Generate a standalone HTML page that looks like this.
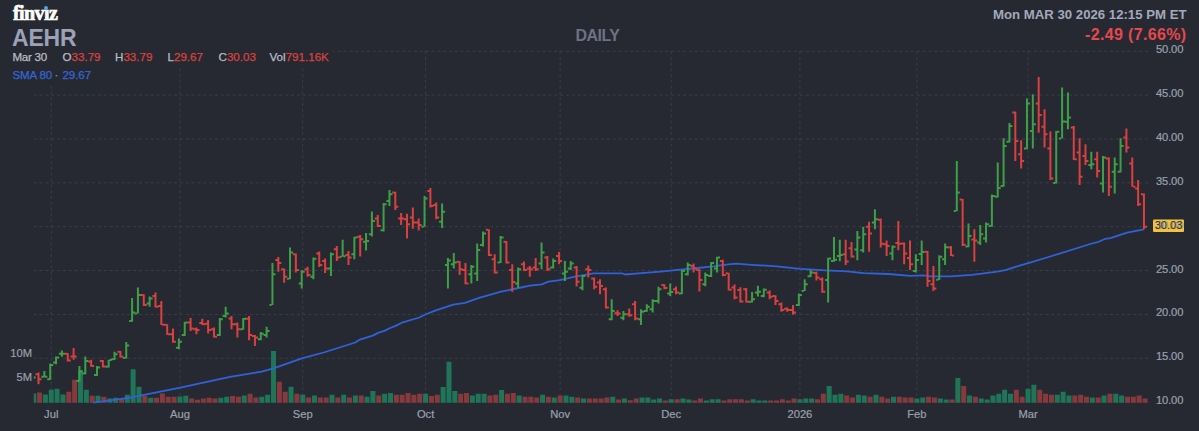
<!DOCTYPE html>
<html><head><meta charset="utf-8"><style>
html,body{margin:0;padding:0;width:1199px;height:431px;overflow:hidden;background:#262932;}
body{position:relative;font-family:"Liberation Sans",sans-serif;}
.t{position:absolute;white-space:nowrap;line-height:1;}
.yl{position:absolute;left:1156px;width:40px;font-size:11.2px;letter-spacing:-0.15px;-webkit-text-stroke:0.2px currentColor;line-height:14px;color:#9aa0ae;}
.xl{position:absolute;top:407px;width:60px;text-align:center;font-size:11.2px;-webkit-text-stroke:0.2px currentColor;line-height:14px;color:#9aa0ae;}
.r1{top:51px;font-size:11.6px;color:#b9bdc7;-webkit-text-stroke:0.25px currentColor;}
.vl{position:absolute;left:0;width:32px;text-align:right;font-size:11.2px;-webkit-text-stroke:0.2px currentColor;line-height:14px;color:#9aa0ae;}
</style></head><body>
<svg width="1199" height="431" viewBox="0 0 1199 431" style="position:absolute;left:0;top:0"><path d="M33.75 402.1H1148 M33.75 358.25H1148 M33.75 314.4H1148 M33.75 270.55H1148 M33.75 226.7H1148 M33.75 182.85H1148 M33.75 139H1148 M33.75 95.15H1148 M33.75 51.3H1148" stroke="#3a3e4a" stroke-width="1" stroke-dasharray="2.9245 2.9245" fill="none"/><path d="M51.25 51V403 M179.93 51V403 M302.76 51V403 M425.59 51V403 M560.11 51V403 M671.24 51V403 M799.92 51V403 M916.9 51V403 M1028.03 51V403" stroke="#3a3e4a" stroke-width="1" stroke-dasharray="2.9 2.9" fill="none"/><rect x="0" y="0" width="333" height="68" fill="#262932"/><rect x="0" y="68" width="95" height="17" fill="#262932"/><path d="M33.75 393.5H36.2V402.7H33.75ZM42.9 394.6H47.9V402.7H42.9ZM48.75 389.8H53.75V402.7H48.75ZM54.6 388.8H59.6V402.7H54.6ZM60.45 394.6H65.45V402.7H60.45ZM78 370.1H83V402.7H78ZM83.84 389.8H88.84V402.7H83.84ZM95.54 395.7H100.54V402.7H95.54ZM107.24 398.5H112.24V402.7H107.24ZM113.09 397.7H118.09V402.7H113.09ZM124.79 394.8H129.79V402.7H124.79ZM130.64 369.3H135.64V402.7H130.64ZM136.49 386.8H141.49V402.7H136.49ZM148.18 397.7H153.18V402.7H148.18ZM177.43 396.5H182.43V402.7H177.43ZM183.28 395.7H188.28V402.7H183.28ZM218.37 397.7H223.37V402.7H218.37ZM224.22 396.8H229.22V402.7H224.22ZM241.77 395.6H246.77V402.7H241.77ZM259.31 396.8H264.31V402.7H259.31ZM265.16 394.8H270.16V402.7H265.16ZM271.01 350.9H276.01V402.7H271.01ZM288.56 386.8H293.56V402.7H288.56ZM300.26 394.8H305.26V402.7H300.26ZM311.95 395.6H316.95V402.7H311.95ZM329.5 394.8H334.5V402.7H329.5ZM341.2 394.8H346.2V402.7H341.2ZM352.9 395.6H357.9V402.7H352.9ZM364.6 396.8H369.6V402.7H364.6ZM370.44 391H375.44V402.7H370.44ZM382.14 393.8H387.14V402.7H382.14ZM387.99 393H392.99V402.7H387.99ZM423.09 393.8H428.09V402.7H423.09ZM440.63 387.1H445.63V402.7H440.63ZM446.48 361.7H451.48V402.7H446.48ZM452.33 391H457.33V402.7H452.33ZM469.88 395.6H474.88V402.7H469.88ZM475.73 393.8H480.73V402.7H475.73ZM481.58 393.8H486.58V402.7H481.58ZM499.12 390.1H504.12V402.7H499.12ZM516.67 395.6H521.67V402.7H516.67ZM540.07 394.8H545.07V402.7H540.07ZM551.76 397.6H556.76V402.7H551.76ZM563.46 395.6H568.46V402.7H563.46ZM569.31 396.8H574.31V402.7H569.31ZM581.01 398.5H586.01V402.7H581.01ZM610.25 396.8H615.25V402.7H610.25ZM621.95 398.5H626.95V402.7H621.95ZM639.5 397.6H644.5V402.7H639.5ZM645.35 397.6H650.35V402.7H645.35ZM651.2 399.6H656.2V402.7H651.2ZM657.05 398.5H662.05V402.7H657.05ZM668.74 399.3H673.74V402.7H668.74ZM680.44 398.5H685.44V402.7H680.44ZM686.29 399.6H691.29V402.7H686.29ZM703.84 400.5H708.84V402.7H703.84ZM709.69 399.3H714.69V402.7H709.69ZM715.54 399.3H720.54V402.7H715.54ZM750.63 399.3H755.63V402.7H750.63ZM756.48 400.5H761.48V402.7H756.48ZM762.33 400.5H767.33V402.7H762.33ZM797.42 399.3H802.42V402.7H797.42ZM803.27 398.5H808.27V402.7H803.27ZM809.12 398.5H814.12V402.7H809.12ZM826.67 386H831.67V402.7H826.67ZM832.52 394.8H837.52V402.7H832.52ZM838.37 393.8H843.37V402.7H838.37ZM855.91 394.8H860.91V402.7H855.91ZM861.76 395.6H866.76V402.7H861.76ZM873.46 394.8H878.46V402.7H873.46ZM891.01 396.8H896.01V402.7H891.01ZM914.4 398.5H919.4V402.7H914.4ZM920.25 397.6H925.25V402.7H920.25ZM937.8 398.5H942.8V402.7H937.8ZM943.65 399.6H948.65V402.7H943.65ZM955.35 378.1H960.35V402.7H955.35ZM967.04 395.6H972.04V402.7H967.04ZM978.74 398.5H983.74V402.7H978.74ZM984.59 399.6H989.59V402.7H984.59ZM990.44 395.6H995.44V402.7H990.44ZM996.29 393.8H1001.29V402.7H996.29ZM1002.14 389.8H1007.14V402.7H1002.14ZM1007.99 393.8H1012.99V402.7H1007.99ZM1025.53 388.8H1030.53V402.7H1025.53ZM1031.38 384.8H1036.38V402.7H1031.38ZM1054.78 394.8H1059.78V402.7H1054.78ZM1060.63 391.8H1065.63V402.7H1060.63ZM1066.48 395.6H1071.48V402.7H1066.48ZM1089.87 397.6H1094.87V402.7H1089.87ZM1101.57 395.6H1106.57V402.7H1101.57ZM1113.27 393.8H1118.27V402.7H1113.27ZM1119.12 395.6H1124.12V402.7H1119.12Z" fill="#1f7558"/><path d="M37.05 392.6H42.05V402.7H37.05ZM66.3 391.8H71.3V402.7H66.3ZM72.15 379.8H77.15V402.7H72.15ZM89.69 395.7H94.69V402.7H89.69ZM101.39 396.8H106.39V402.7H101.39ZM118.94 398.5H123.94V402.7H118.94ZM142.33 396H147.33V402.7H142.33ZM154.03 397.7H159.03V402.7H154.03ZM159.88 393.5H164.88V402.7H159.88ZM165.73 396.8H170.73V402.7H165.73ZM171.58 396.8H176.58V402.7H171.58ZM189.13 398.5H194.13V402.7H189.13ZM194.97 399.8H199.97V402.7H194.97ZM200.82 398.5H205.82V402.7H200.82ZM206.67 397.7H211.67V402.7H206.67ZM212.52 398.5H217.52V402.7H212.52ZM230.07 396H235.07V402.7H230.07ZM235.92 396.8H240.92V402.7H235.92ZM247.62 393.8H252.62V402.7H247.62ZM253.47 397.6H258.47V402.7H253.47ZM276.86 381.8H281.86V402.7H276.86ZM282.71 391.8H287.71V402.7H282.71ZM294.41 393.8H299.41V402.7H294.41ZM306.11 397.6H311.11V402.7H306.11ZM317.8 397.6H322.8V402.7H317.8ZM323.65 397.6H328.65V402.7H323.65ZM335.35 397.6H340.35V402.7H335.35ZM347.05 397.6H352.05V402.7H347.05ZM358.75 395.6H363.75V402.7H358.75ZM376.29 395.6H381.29V402.7H376.29ZM393.84 394.8H398.84V402.7H393.84ZM399.69 394.8H404.69V402.7H399.69ZM405.54 393H410.54V402.7H405.54ZM411.39 394.8H416.39V402.7H411.39ZM417.24 393.8H422.24V402.7H417.24ZM428.94 396H433.94V402.7H428.94ZM434.78 394.8H439.78V402.7H434.78ZM458.18 393.8H463.18V402.7H458.18ZM464.03 393H469.03V402.7H464.03ZM487.43 395.6H492.43V402.7H487.43ZM493.27 394.8H498.27V402.7H493.27ZM504.97 393.8H509.97V402.7H504.97ZM510.82 393H515.82V402.7H510.82ZM522.52 396.8H527.52V402.7H522.52ZM528.37 396.8H533.37V402.7H528.37ZM534.22 397.6H539.22V402.7H534.22ZM545.91 396.8H550.91V402.7H545.91ZM557.61 395.6H562.61V402.7H557.61ZM575.16 397.6H580.16V402.7H575.16ZM586.86 398.5H591.86V402.7H586.86ZM592.71 398.5H597.71V402.7H592.71ZM598.56 398.5H603.56V402.7H598.56ZM604.4 397.6H609.4V402.7H604.4ZM616.1 399.6H621.1V402.7H616.1ZM627.8 400.2H632.8V402.7H627.8ZM633.65 398.5H638.65V402.7H633.65ZM662.89 400.5H667.89V402.7H662.89ZM674.59 399.3H679.59V402.7H674.59ZM692.14 400.5H697.14V402.7H692.14ZM697.99 398.5H702.99V402.7H697.99ZM721.38 400.5H726.38V402.7H721.38ZM727.23 399.3H732.23V402.7H727.23ZM733.08 399.3H738.08V402.7H733.08ZM738.93 399.3H743.93V402.7H738.93ZM744.78 400.5H749.78V402.7H744.78ZM768.18 400.5H773.18V402.7H768.18ZM774.03 400.5H779.03V402.7H774.03ZM779.88 399.3H784.88V402.7H779.88ZM785.72 400.5H790.72V402.7H785.72ZM791.57 398.5H796.57V402.7H791.57ZM814.97 399.3H819.97V402.7H814.97ZM820.82 393.8H825.82V402.7H820.82ZM844.21 395.6H849.21V402.7H844.21ZM850.06 397.6H855.06V402.7H850.06ZM867.61 396.8H872.61V402.7H867.61ZM879.31 396.8H884.31V402.7H879.31ZM885.16 398.5H890.16V402.7H885.16ZM896.86 396.8H901.86V402.7H896.86ZM902.7 397.6H907.7V402.7H902.7ZM908.55 397.6H913.55V402.7H908.55ZM926.1 396.8H931.1V402.7H926.1ZM931.95 397.6H936.95V402.7H931.95ZM949.5 399.6H954.5V402.7H949.5ZM961.19 386H966.19V402.7H961.19ZM972.89 396.8H977.89V402.7H972.89ZM1013.84 389.8H1018.84V402.7H1013.84ZM1019.68 396.8H1024.68V402.7H1019.68ZM1037.23 389.8H1042.23V402.7H1037.23ZM1043.08 393.8H1048.08V402.7H1043.08ZM1048.93 394.8H1053.93V402.7H1048.93ZM1072.33 395.6H1077.33V402.7H1072.33ZM1078.17 394.8H1083.17V402.7H1078.17ZM1084.02 396.8H1089.02V402.7H1084.02ZM1095.72 397.6H1100.72V402.7H1095.72ZM1107.42 393.8H1112.42V402.7H1107.42ZM1124.97 396.8H1129.97V402.7H1124.97ZM1130.82 396.8H1135.82V402.7H1130.82ZM1136.66 395.6H1141.66V402.7H1136.66ZM1142.51 398.5H1147.51V402.7H1142.51Z" fill="#873a3d"/><polyline points="93.5,402.7 130.3,397.7 180.4,387.6 230,376.8 261.7,371.7 273.4,368.4 301.8,358.4 323.6,352.5 355.3,342.5 359.9,339.6 372.7,335.6 378.6,332.6 384.4,330.9 390.2,328 396.1,325.6 401.9,322.7 419.4,317.5 425.3,314.5 435.8,310.4 453.3,304.6 465,302.9 479.8,297.6 483.5,296.7 501,291.7 518.6,288 530,285.7 541.7,284.3 548.4,281.7 560,280.1 575.1,276.7 593.5,273.4 621.9,273.4 625.2,274.5 638.6,273.4 660.3,271.7 680.4,269.7 697.1,268 713.8,266.4 723.8,264.8 735.8,263.6 751.7,264.8 776.8,266.4 800.2,268.8 825.2,270.4 847,271.3 863.6,273.2 888.6,274 910.2,275.9 923.6,275.4 930.3,276.4 950.3,276.4 972,274.8 997.1,271.7 1005.4,270.1 1017.1,266.4 1030,262.6 1048.6,257 1092,243.5 1098.7,241.8 1105.4,238.8 1110.4,238.1 1127.1,232.6 1143.8,229.3" fill="none" stroke="#2f62d9" stroke-width="1.8" stroke-linejoin="round"/><path d="M33.75 376.6H35.65v2H33.75Z M43.35 370.9h2V377.6h-2Z M41.35 375.8h2v2h-2Z M45.35 375.8h2v2h-2Z M49.2 363.4h2V380.1h-2Z M47.2 378.3h2v2h-2Z M51.2 364.1h2v2h-2Z M55.05 356.4h2V364.2h-2Z M53.05 361.6h2v2h-2Z M57.05 356.6h2v2h-2Z M60.9 350.4h2V356.7h-2Z M58.9 352.7h2v2h-2Z M62.9 352.7h2v2h-2Z M78.45 365.9h2V381.8h-2Z M76.45 380h2v2h-2Z M80.45 370.4h2v2h-2Z M84.29 356.4h2V374.3h-2Z M82.29 372.4h2v2h-2Z M86.29 359.9h2v2h-2Z M95.99 365.9h2V375.9h-2Z M93.99 374h2v2h-2Z M97.99 366.6h2v2h-2Z M107.69 359.7h2V367.6h-2Z M105.69 365.7h2v2h-2Z M109.69 359.1h2v2h-2Z M113.54 351.7h2V360.1h-2Z M111.54 358.2h2v2h-2Z M115.54 353.2h2v2h-2Z M125.24 342h2V358.4h-2Z M123.24 357.1h2v2h-2Z M127.24 344.4h2v2h-2Z M131.09 298h2V321.8h-2Z M129.09 320h2v2h-2Z M133.09 311.6h2v2h-2Z M136.94 287.5h2V313.4h-2Z M134.94 312.4h2v2h-2Z M138.94 294h2v2h-2Z M148.63 296.4h2V306.7h-2Z M146.63 302.4h2v2h-2Z M150.63 297.4h2v2h-2Z M177.88 338.5h2V349.3h-2Z M175.88 346.7h2v2h-2Z M179.88 340.8h2v2h-2Z M183.73 321.8h2V336h-2Z M181.73 334.1h2v2h-2Z M185.73 321.6h2v2h-2Z M218.82 318.1h2V336h-2Z M216.82 334.1h2v2h-2Z M220.82 318.3h2v2h-2Z M224.67 306.7h2V317.6h-2Z M222.67 315h2v2h-2Z M226.67 312.4h2v2h-2Z M242.22 318.1h2V329.8h-2Z M240.22 328.3h2v2h-2Z M244.22 317.8h2v2h-2Z M259.76 332.1h2V340.2h-2Z M257.76 338.3h2v2h-2Z M261.76 332.8h2v2h-2Z M265.61 326.8h2V337.6h-2Z M263.61 334.1h2v2h-2Z M267.61 330h2v2h-2Z M271.46 263.1h2V305h-2Z M269.46 304h2v2h-2Z M273.46 273.3h2v2h-2Z M289.01 247.6h2V279.3h-2Z M287.01 277.8h2v2h-2Z M291.01 251.6h2v2h-2Z M300.71 270.1h2V288.5h-2Z M298.71 282.5h2v2h-2Z M302.71 270.8h2v2h-2Z M312.4 257.6h2V279.3h-2Z M310.4 275.8h2v2h-2Z M314.4 257.8h2v2h-2Z M329.95 252.6h2V276h-2Z M327.95 267.5h2v2h-2Z M331.95 253.3h2v2h-2Z M341.65 239.7h2V256.8h-2Z M339.65 255.8h2v2h-2Z M343.65 255.3h2v2h-2Z M353.35 236.7h2V259.3h-2Z M351.35 253.3h2v2h-2Z M355.35 236.5h2v2h-2Z M365.05 233h2V250.6h-2Z M363.05 240.7h2v2h-2Z M367.05 239.9h2v2h-2Z M370.89 211.4h2V236.5h-2Z M368.89 233.3h2v2h-2Z M372.89 220h2v2h-2Z M382.59 203.1h2V231.5h-2Z M380.59 229.2h2v2h-2Z M384.59 203.3h2v2h-2Z M388.44 190h2V205.9h-2Z M386.44 199.9h2v2h-2Z M390.44 193.2h2v2h-2Z M423.54 195.9h2V226.8h-2Z M421.54 225.8h2v2h-2Z M425.54 197.4h2v2h-2Z M441.08 203.4h2V228.1h-2Z M439.08 220.8h2v2h-2Z M443.08 210.8h2v2h-2Z M446.93 258.1h2V288.5h-2Z M444.93 264.1h2v2h-2Z M448.93 259.4h2v2h-2Z M452.78 253.1h2V268.5h-2Z M450.78 263.3h2v2h-2Z M454.78 261.6h2v2h-2Z M470.33 265.1h2V283.5h-2Z M468.33 273.3h2v2h-2Z M472.33 265.8h2v2h-2Z M476.18 243.4h2V281h-2Z M474.18 272.5h2v2h-2Z M478.18 249.1h2v2h-2Z M482.03 231.4h2V246.4h-2Z M480.03 244.1h2v2h-2Z M484.03 232.4h2v2h-2Z M499.57 235.9h2V263.1h-2Z M497.57 261.6h2v2h-2Z M501.57 236.5h2v2h-2Z M517.12 267.6h2V287.7h-2Z M515.12 282.5h2v2h-2Z M519.12 268.3h2v2h-2Z M540.52 242.6h2V269.3h-2Z M538.52 262.4h2v2h-2Z M542.52 251.6h2v2h-2Z M552.21 258.4h2V268.5h-2Z M550.21 266.6h2v2h-2Z M554.21 259.9h2v2h-2Z M563.91 260.9h2V281h-2Z M561.91 272.5h2v2h-2Z M565.91 270.8h2v2h-2Z M569.76 260.9h2V270.1h-2Z M567.76 267.5h2v2h-2Z M571.76 262.4h2v2h-2Z M581.46 275.1h2V290.2h-2Z M579.46 286.7h2v2h-2Z M583.46 275h2v2h-2Z M610.7 299.3h2V320.2h-2Z M608.7 318.3h2v2h-2Z M612.7 310h2v2h-2Z M622.4 311h2V320.2h-2Z M620.4 316.7h2v2h-2Z M624.4 313.3h2v2h-2Z M639.95 309.3h2V325.1h-2Z M637.95 318.3h2v2h-2Z M641.95 310.8h2v2h-2Z M645.8 304.3h2V311.8h-2Z M643.8 310h2v2h-2Z M647.8 305.8h2v2h-2Z M651.65 299.2h2V312.6h-2Z M649.65 308.3h2v2h-2Z M653.65 299.9h2v2h-2Z M657.5 286.7h2V303.4h-2Z M655.5 299.9h2v2h-2Z M659.5 288.2h2v2h-2Z M669.19 283.4h2V295.9h-2Z M667.19 292.4h2v2h-2Z M671.19 291h2v2h-2Z M680.89 270h2V294.2h-2Z M678.89 292.4h2v2h-2Z M682.89 270h2v2h-2Z M686.74 262.5h2V275.5h-2Z M684.74 273.2h2v2h-2Z M688.74 264h2v2h-2Z M704.29 272.6h2V286.3h-2Z M702.29 283.3h2v2h-2Z M706.29 274.1h2v2h-2Z M710.14 262h2V277h-2Z M708.14 274.9h2v2h-2Z M712.14 262h2v2h-2Z M715.99 256.7h2V272.6h-2Z M713.99 267.4h2v2h-2Z M717.99 256.5h2v2h-2Z M751.08 292h2V302.6h-2Z M749.08 300.7h2v2h-2Z M753.08 298.2h2v2h-2Z M756.93 285.7h2V296.5h-2Z M754.93 291.5h2v2h-2Z M758.93 290.7h2v2h-2Z M762.78 288.4h2V297.2h-2Z M760.78 295h2v2h-2Z M764.78 288.7h2v2h-2Z M797.87 293.5h2V305.9h-2Z M795.87 304.1h2v2h-2Z M799.87 294.1h2v2h-2Z M803.72 279.3h2V291h-2Z M801.72 289.9h2v2h-2Z M805.72 283.3h2v2h-2Z M809.57 270.1h2V277.2h-2Z M807.57 275.3h2v2h-2Z M811.57 271.5h2v2h-2Z M827.12 257.7h2V302.6h-2Z M825.12 279.1h2v2h-2Z M829.12 257.6h2v2h-2Z M832.97 237h2V261.7h-2Z M830.97 259.9h2v2h-2Z M834.97 258.7h2v2h-2Z M838.82 239.8h2V261.2h-2Z M836.82 255h2v2h-2Z M840.82 254h2v2h-2Z M856.36 231h2V260.2h-2Z M854.36 248.5h2v2h-2Z M858.36 236.6h2v2h-2Z M862.21 226.8h2V252.5h-2Z M860.21 249.2h2v2h-2Z M864.21 233.3h2v2h-2Z M873.91 209.2h2V229.3h-2Z M871.91 221.6h2v2h-2Z M875.91 218.2h2v2h-2Z M891.46 245.5h2V260.2h-2Z M889.46 252.5h2v2h-2Z M893.46 245.8h2v2h-2Z M914.85 254.2h2V272.6h-2Z M912.85 269.9h2v2h-2Z M916.85 259h2v2h-2Z M920.7 240.5h2V265.1h-2Z M918.7 253h2v2h-2Z M922.7 251h2v2h-2Z M938.25 255.3h2V280.1h-2Z M936.25 278.8h2v2h-2Z M940.25 255.7h2v2h-2Z M944.1 243.4h2V265.1h-2Z M942.1 258.2h2v2h-2Z M946.1 246.3h2v2h-2Z M955.8 160.9h2V211.2h-2Z M953.8 209.9h2v2h-2Z M957.8 191.6h2v2h-2Z M967.49 223.4h2V247.2h-2Z M965.49 245.5h2v2h-2Z M969.49 235h2v2h-2Z M979.19 225.1h2V245.1h-2Z M977.19 241.6h2v2h-2Z M981.19 233.3h2v2h-2Z M985.04 222.6h2V242.6h-2Z M983.04 237.5h2v2h-2Z M987.04 223.3h2v2h-2Z M990.89 194.5h2V226.8h-2Z M988.89 224.9h2v2h-2Z M992.89 194.9h2v2h-2Z M996.74 162.6h2V197.6h-2Z M994.74 195.8h2v2h-2Z M998.74 187h2v2h-2Z M1002.59 138.3h2V186.8h-2Z M1000.59 185h2v2h-2Z M1004.59 144.9h2v2h-2Z M1008.44 123.1h2V142.5h-2Z M1006.44 140.7h2v2h-2Z M1010.44 125h2v2h-2Z M1025.98 98.4h2V149.2h-2Z M1023.98 147.4h2v2h-2Z M1027.98 102.4h2v2h-2Z M1031.83 94.2h2V148.4h-2Z M1029.83 130h2v2h-2Z M1033.83 123.3h2v2h-2Z M1055.23 131h2V183.5h-2Z M1053.23 182.1h2v2h-2Z M1057.23 130.7h2v2h-2Z M1061.08 87.5h2V138.5h-2Z M1059.08 137.5h2v2h-2Z M1063.08 120.5h2v2h-2Z M1066.93 92.6h2V129.3h-2Z M1064.93 120.8h2v2h-2Z M1068.93 116.6h2v2h-2Z M1090.32 151.7h2V169.3h-2Z M1088.32 164.1h2v2h-2Z M1092.32 163.3h2v2h-2Z M1102.02 155.9h2V192.6h-2Z M1100.02 182.5h2v2h-2Z M1104.02 156.6h2v2h-2Z M1113.72 157.6h2V193.5h-2Z M1111.72 170.8h2v2h-2Z M1115.72 163.3h2v2h-2Z M1119.57 138.3h2V172.6h-2Z M1117.57 170.8h2v2h-2Z M1121.57 144.9h2v2h-2Z" fill="#3e9f47"/><path d="M37.5 372.6h2V384.3h-2Z M35.5 373.3h2v2h-2Z M39.5 378.3h2v2h-2Z M66.75 353h2V361.4h-2Z M64.75 352.7h2v2h-2Z M68.75 359.4h2v2h-2Z M72.6 348h2V359.7h-2Z M70.6 355.4h2v2h-2Z M74.6 355.4h2v2h-2Z M90.14 359.7h2V366.7h-2Z M88.14 360.4h2v2h-2Z M92.14 364.9h2v2h-2Z M101.84 360.1h2V367.6h-2Z M99.84 359.9h2v2h-2Z M103.84 365.4h2v2h-2Z M119.39 350.9h2V357.6h-2Z M117.39 350.7h2v2h-2Z M121.39 355.7h2v2h-2Z M142.78 294.2h2V305.9h-2Z M140.78 294h2v2h-2Z M144.78 304h2v2h-2Z M154.48 292.5h2V307.6h-2Z M152.48 294.9h2v2h-2Z M156.48 305.7h2v2h-2Z M160.33 300.9h2V325.1h-2Z M158.33 304.9h2v2h-2Z M162.33 323.8h2v2h-2Z M166.18 324.3h2V335.1h-2Z M164.18 323.8h2v2h-2Z M168.18 333.3h2v2h-2Z M172.03 328.5h2V342.7h-2Z M170.03 333.3h2v2h-2Z M174.03 340.8h2v2h-2Z M189.58 318.1h2V331h-2Z M187.58 321.6h2v2h-2Z M191.58 327.5h2v2h-2Z M195.43 327.6h2V334.3h-2Z M193.43 328.3h2v2h-2Z M197.43 329.1h2v2h-2Z M201.27 318.8h2V325.1h-2Z M199.27 322.1h2v2h-2Z M203.27 323.3h2v2h-2Z M207.12 320.1h2V333.5h-2Z M205.12 322.8h2v2h-2Z M209.12 329.1h2v2h-2Z M212.97 327.6h2V337.6h-2Z M210.97 328.3h2v2h-2Z M214.97 335.8h2v2h-2Z M230.52 315.9h2V329.3h-2Z M228.52 317.4h2v2h-2Z M232.52 323.3h2v2h-2Z M236.37 322.6h2V337.6h-2Z M234.37 323.3h2v2h-2Z M238.37 328.3h2v2h-2Z M248.07 315.9h2V340.2h-2Z M246.07 317.8h2v2h-2Z M250.07 334.1h2v2h-2Z M253.92 335.1h2V346h-2Z M251.92 335h2v2h-2Z M255.92 336.6h2v2h-2Z M277.31 257.1h2V271.8h-2Z M275.31 259.1h2v2h-2Z M279.31 262.1h2v2h-2Z M283.16 268.5h2V282.7h-2Z M281.16 268.3h2v2h-2Z M285.16 275.8h2v2h-2Z M294.86 253.4h2V272.6h-2Z M292.86 253.3h2v2h-2Z M296.86 269.1h2v2h-2Z M306.56 266.8h2V276.8h-2Z M304.56 268.3h2v2h-2Z M308.56 274.1h2v2h-2Z M318.25 251.4h2V267.1h-2Z M316.25 252.4h2v2h-2Z M320.25 264.1h2v2h-2Z M324.1 258.4h2V273.1h-2Z M322.1 259.9h2v2h-2Z M326.1 267.5h2v2h-2Z M335.8 245.9h2V260.9h-2Z M333.8 248.2h2v2h-2Z M337.8 256.6h2v2h-2Z M347.5 250.9h2V265.1h-2Z M345.5 254.1h2v2h-2Z M349.5 256.6h2v2h-2Z M359.2 235h2V256.4h-2Z M357.2 235.7h2v2h-2Z M361.2 238.2h2v2h-2Z M376.74 215.1h2V227.1h-2Z M374.74 217.5h2v2h-2Z M378.74 225h2v2h-2Z M394.29 191.7h2V210.1h-2Z M392.29 191.6h2v2h-2Z M396.29 205.8h2v2h-2Z M400.14 213.1h2V225.1h-2Z M398.14 217.5h2v2h-2Z M402.14 217.5h2v2h-2Z M405.99 213.8h2V238.5h-2Z M403.99 218.3h2v2h-2Z M407.99 223.3h2v2h-2Z M411.84 207.6h2V228.8h-2Z M409.84 216.6h2v2h-2Z M413.84 221.6h2v2h-2Z M417.69 218.5h2V230.5h-2Z M415.69 221.6h2v2h-2Z M419.69 224.1h2v2h-2Z M429.38 188h2V207.6h-2Z M427.38 189.9h2v2h-2Z M431.38 204.9h2v2h-2Z M435.23 202.6h2V219.3h-2Z M433.23 204.1h2v2h-2Z M437.23 216.6h2v2h-2Z M458.63 260.9h2V275.1h-2Z M456.63 260.8h2v2h-2Z M460.63 268.3h2v2h-2Z M464.48 263.1h2V284.3h-2Z M462.48 269.1h2v2h-2Z M466.48 282.5h2v2h-2Z M487.88 229.2h2V255.9h-2Z M485.88 228.7h2v2h-2Z M489.88 254.1h2v2h-2Z M493.72 254.3h2V273.5h-2Z M491.72 258.3h2v2h-2Z M495.72 271.6h2v2h-2Z M505.42 240.9h2V263.4h-2Z M503.42 240.7h2v2h-2Z M507.42 261.6h2v2h-2Z M511.27 264.3h2V291.7h-2Z M509.27 269.1h2v2h-2Z M513.27 281.1h2v2h-2Z M522.97 261.4h2V271h-2Z M520.97 263.3h2v2h-2Z M524.97 269.1h2v2h-2Z M528.82 266h2V276.8h-2Z M526.82 267.5h2v2h-2Z M530.82 268.3h2v2h-2Z M534.67 258.1h2V271h-2Z M532.67 266.6h2v2h-2Z M536.67 268.3h2v2h-2Z M546.37 255.9h2V271h-2Z M544.37 256.6h2v2h-2Z M548.37 268.3h2v2h-2Z M558.06 252.1h2V264.3h-2Z M556.06 254.9h2v2h-2Z M560.06 259.9h2v2h-2Z M575.61 266h2V286.5h-2Z M573.61 266.6h2v2h-2Z M577.61 280.8h2v2h-2Z M587.31 265.4h2V277.6h-2Z M585.31 268.3h2v2h-2Z M589.31 269.1h2v2h-2Z M593.16 277.6h2V289.3h-2Z M591.16 277.5h2v2h-2Z M595.16 285.8h2v2h-2Z M599.01 279.3h2V294.3h-2Z M597.01 281.6h2v2h-2Z M601.01 284.9h2v2h-2Z M604.86 287.6h2V308.5h-2Z M602.86 288.3h2v2h-2Z M606.86 306.6h2v2h-2Z M616.55 310.2h2V316h-2Z M614.55 312.2h2v2h-2Z M618.55 312.5h2v2h-2Z M628.25 308.5h2V316.8h-2Z M626.25 313.3h2v2h-2Z M630.25 314.2h2v2h-2Z M634.1 301h2V320.2h-2Z M632.1 303.3h2v2h-2Z M636.1 317.5h2v2h-2Z M663.35 284.2h2V289.3h-2Z M661.35 284.1h2v2h-2Z M665.35 287.1h2v2h-2Z M675.04 286.5h2V294.2h-2Z M673.04 288.3h2v2h-2Z M677.04 291.6h2v2h-2Z M692.59 263.4h2V272.6h-2Z M690.59 264.9h2v2h-2Z M694.59 267.4h2v2h-2Z M698.44 269.2h2V291.4h-2Z M696.44 269h2v2h-2Z M700.44 279h2v2h-2Z M721.84 259.7h2V276.3h-2Z M719.84 259.9h2v2h-2Z M723.84 274.1h2v2h-2Z M727.68 272.7h2V290.5h-2Z M725.68 272.3h2v2h-2Z M729.68 288.7h2v2h-2Z M733.53 284.5h2V299.2h-2Z M731.53 286.5h2v2h-2Z M735.53 296.6h2v2h-2Z M739.38 287.2h2V302.6h-2Z M737.38 289h2v2h-2Z M741.38 300.4h2v2h-2Z M745.23 288h2V302.6h-2Z M743.23 288.2h2v2h-2Z M747.23 300.7h2v2h-2Z M768.63 290.5h2V299.2h-2Z M766.63 291.5h2v2h-2Z M770.63 295.7h2v2h-2Z M774.48 295.2h2V305.1h-2Z M772.48 295h2v2h-2Z M776.48 299.9h2v2h-2Z M780.33 302.6h2V311.8h-2Z M778.33 303.3h2v2h-2Z M782.33 309.1h2v2h-2Z M786.17 307.6h2V311.8h-2Z M784.17 307.8h2v2h-2Z M788.17 309.1h2v2h-2Z M792.02 305.1h2V314.8h-2Z M790.02 309.1h2v2h-2Z M794.02 311.6h2v2h-2Z M815.42 271.5h2V280.5h-2Z M813.42 272h2v2h-2Z M817.42 276.5h2v2h-2Z M821.27 277.5h2V292.7h-2Z M819.27 278.2h2v2h-2Z M823.27 290.7h2v2h-2Z M844.66 239.8h2V265.1h-2Z M842.66 253.3h2v2h-2Z M846.66 260.4h2v2h-2Z M850.51 242h2V257.6h-2Z M848.51 247.3h2v2h-2Z M852.51 255.4h2v2h-2Z M868.06 221.7h2V251.8h-2Z M866.06 225.8h2v2h-2Z M870.06 232.4h2v2h-2Z M879.76 218.4h2V247.6h-2Z M877.76 218.7h2v2h-2Z M881.76 242.8h2v2h-2Z M885.61 240.5h2V256h-2Z M883.61 243.3h2v2h-2Z M887.61 245h2v2h-2Z M897.31 220.9h2V250.2h-2Z M895.31 242.1h2v2h-2Z M899.31 242.8h2v2h-2Z M903.15 242.6h2V264.2h-2Z M901.15 242.5h2v2h-2Z M905.15 252.5h2v2h-2Z M909 240.5h2V270.1h-2Z M907 257h2v2h-2Z M911 263.2h2v2h-2Z M926.55 251h2V286.8h-2Z M924.55 250.7h2v2h-2Z M928.55 279.9h2v2h-2Z M932.4 265.9h2V291h-2Z M930.4 283.3h2v2h-2Z M934.4 287.5h2v2h-2Z M949.95 246h2V256h-2Z M947.95 246.5h2v2h-2Z M951.95 254.5h2v2h-2Z M961.64 198.9h2V246h-2Z M959.64 198.5h2v2h-2Z M963.64 243.7h2v2h-2Z M973.34 229.3h2V261.7h-2Z M971.34 238.5h2v2h-2Z M975.34 239.5h2v2h-2Z M1014.29 111.4h2V160.9h-2Z M1012.29 111.6h2v2h-2Z M1016.29 139.9h2v2h-2Z M1020.13 140.2h2V168.4h-2Z M1018.13 153.2h2v2h-2Z M1022.13 159.9h2v2h-2Z M1037.68 77h2V132.7h-2Z M1035.68 102.4h2v2h-2Z M1039.68 114.1h2v2h-2Z M1043.53 109.3h2V147.5h-2Z M1041.53 125.8h2v2h-2Z M1045.53 133.3h2v2h-2Z M1049.38 131.5h2V180.1h-2Z M1047.38 147.4h2v2h-2Z M1051.38 177.5h2v2h-2Z M1072.78 126h2V160.1h-2Z M1070.78 126.5h2v2h-2Z M1074.78 158.2h2v2h-2Z M1078.62 138.3h2V185.1h-2Z M1076.62 151.6h2v2h-2Z M1080.62 175.8h2v2h-2Z M1084.47 144.2h2V165.1h-2Z M1082.47 154.9h2v2h-2Z M1086.47 159.9h2v2h-2Z M1096.17 151.7h2V177.6h-2Z M1094.17 158.2h2v2h-2Z M1098.17 169.9h2v2h-2Z M1107.87 157.6h2V196h-2Z M1105.87 157.4h2v2h-2Z M1109.87 185.8h2v2h-2Z M1125.42 128.5h2V152.6h-2Z M1123.42 136.5h2v2h-2Z M1127.42 146.5h2v2h-2Z M1131.27 157.6h2V186.8h-2Z M1129.27 162.4h2v2h-2Z M1133.27 185.8h2v2h-2Z M1137.11 180.1h2V205.9h-2Z M1135.11 187.5h2v2h-2Z M1139.11 203.2h2v2h-2Z M1142.96 193.4h2V229.3h-2Z M1140.96 193.2h2v2h-2Z M1144.96 225.8h2v2h-2Z" fill="#d9403f"/><rect x="1153" y="219.5" width="31" height="12.5" rx="1" fill="#f2c23a"/></svg>
<div class="yl" style="top:393.1px">10.00</div><div class="yl" style="top:349.25px">15.00</div><div class="yl" style="top:305.4px">20.00</div><div class="yl" style="top:261.55px">25.00</div><div class="yl" style="top:217.7px">30.00</div><div class="yl" style="top:173.85px">35.00</div><div class="yl" style="top:130px">40.00</div><div class="yl" style="top:86.15px">45.00</div><div class="yl" style="top:42.3px">50.00</div>
<div class="xl" style="left:21.25px">Jul</div><div class="xl" style="left:149.93px">Aug</div><div class="xl" style="left:272.76px">Sep</div><div class="xl" style="left:395.59px">Oct</div><div class="xl" style="left:530.11px">Nov</div><div class="xl" style="left:641.24px">Dec</div><div class="xl" style="left:769.92px">2026</div><div class="xl" style="left:886.9px">Feb</div><div class="xl" style="left:998.03px">Mar</div>
<div class="vl" style="top:346px">10M</div>
<div class="vl" style="top:370px">5M</div>
<div class="t" style="left:1153px;top:219px;width:31px;text-align:center;font-size:11px;line-height:13px;color:#262932">30.03</div>
<div class="t" style="left:13px;top:3px;font-family:'Liberation Serif',serif;font-weight:bold;font-size:20px;color:#fff;letter-spacing:-0.6px;-webkit-text-stroke:0.7px #fff">finviz</div>
<div style="position:absolute;left:43px;top:2px;width:7px;height:6.8px;background:#262932"></div><div style="position:absolute;left:44px;top:5.5px;width:4.4px;height:4.4px;border-radius:50%;background:#4aa3f2"></div>
<div class="t" style="left:12px;top:26.5px;font-weight:bold;font-size:23px;letter-spacing:-0.2px;color:#9aa2b6">AEHR</div>
<div class="t r1" style="left:12.5px;letter-spacing:-0.3px">Mar 30</div>
<div class="t r1" style="left:62.5px">O<span style="color:#d8433f">33.79</span></div>
<div class="t r1" style="left:115px">H<span style="color:#d8433f">33.79</span></div>
<div class="t r1" style="left:167.5px">L<span style="color:#d8433f">29.67</span></div>
<div class="t r1" style="left:218.5px">C<span style="color:#d8433f">30.03</span></div>
<div class="t r1" style="left:269.5px">Vol<span style="color:#d8433f">791.16K</span></div>
<div class="t r1" style="left:12.5px;top:69px;letter-spacing:-0.2px;color:#3466d6">SMA 80</div><div class="t r1" style="left:54.5px;top:69px;color:#8a8f9c">&middot;</div><div class="t r1" style="left:62.5px;top:69px;letter-spacing:-0.1px;color:#3466d6">29.67</div>
<div class="t" style="left:575.5px;top:28px;font-weight:bold;font-size:16px;letter-spacing:-0.5px;color:#6d7284">DAILY</div>
<div class="t" style="right:12.5px;top:7.5px;font-weight:bold;font-size:13.2px;color:#a3a9bb">Mon MAR 30 2026 12:15 PM ET</div>
<div class="t" style="right:12.5px;top:27px;font-weight:bold;font-size:16px;letter-spacing:0.35px;color:#e5484d">-2.49 (7.66%)</div>
</body></html>
